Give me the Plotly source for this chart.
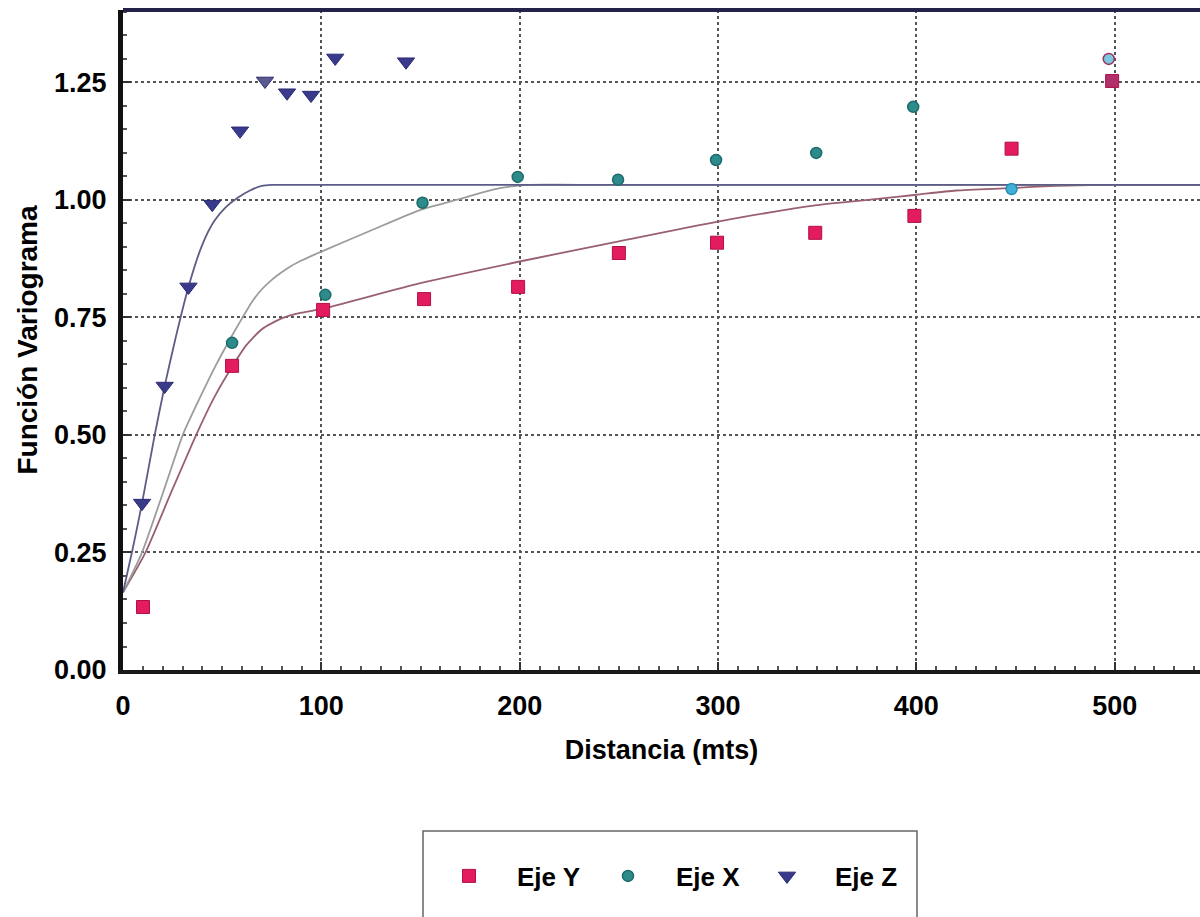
import plotly.graph_objects as go

# ---- experimental variogram points ----
dist_y = [10.1, 55, 100.9, 151.8, 199.2, 250, 299.5, 349, 399, 448, 498.7]
gamma_y = [0.134, 0.647, 0.766, 0.789, 0.815, 0.887, 0.909, 0.930, 0.966, 1.109, 1.253]

dist_x = [55, 102, 151, 199, 249.6, 299, 349.5, 398.4, 448, 497]
gamma_x = [0.696, 0.798, 0.994, 1.049, 1.043, 1.085, 1.100, 1.198, 1.023, 1.300]

dist_z = [9.6, 21, 33, 45, 59, 71.6, 82.7, 94.8, 107, 142.7]
gamma_z = [0.355, 0.604, 0.815, 0.991, 1.147, 1.253, 1.228, 1.223, 1.302, 1.294]

# ---- fitted model curves ----
model_z_d = [0, 5, 9.6, 16, 21, 27, 33, 40, 46, 52, 58, 64, 70, 75, 90, 120, 545]
model_z_g = [0.165, 0.26, 0.355, 0.50, 0.604, 0.715, 0.815, 0.905, 0.955, 0.985,
             1.005, 1.020, 1.030, 1.032, 1.032, 1.032, 1.032]

model_x_d = [0, 9.4, 20, 30.4, 40, 46.4, 54.8, 60, 65, 70, 75, 80, 85, 90, 100,
             125, 150, 168, 190, 205, 230, 545]
model_x_g = [0.165, 0.248, 0.375, 0.503, 0.59, 0.645, 0.71, 0.748, 0.783, 0.81,
             0.83, 0.846, 0.86, 0.871, 0.89, 0.935, 0.979, 1.0, 1.025, 1.032,
             1.032, 1.032]

model_y_d = [0, 11.1, 24, 37.2, 46, 55, 62, 70, 80, 90, 100, 150, 200, 250, 300,
             350, 378, 400, 420, 447, 470, 493, 545]
model_y_g = [0.165, 0.248, 0.375, 0.503, 0.58, 0.645, 0.69, 0.725, 0.748, 0.76,
             0.768, 0.823, 0.869, 0.912, 0.954, 0.989, 1.001, 1.011, 1.020, 1.025,
             1.030, 1.032, 1.032]

# per-point marker colours
col_y = ["#e31c5f"] * 10 + ["#b0306a"]
col_x = ["#2e8b8b"] * 8 + ["#3fb0d8", "#7cc8e0"]
edge_x = ["#1d6b6b"] * 8 + ["#2a8ab0", "#a03060"]
col_z = ["#3a3a8c"] * 5 + ["#5a5a90"] + ["#3a3a8c"] * 4

FONT = "Liberation Sans, Arial, sans-serif"

fig = go.Figure()

# model curves (behind markers)
fig.add_trace(go.Scatter(x=model_y_d, y=model_y_g, mode="lines", showlegend=False,
                         line=dict(color="#99606f", width=1.8, shape="spline", smoothing=0.6),
                         hoverinfo="skip"))
fig.add_trace(go.Scatter(x=model_x_d, y=model_x_g, mode="lines", showlegend=False,
                         line=dict(color="#9c9c9c", width=1.8, shape="spline", smoothing=0.6),
                         hoverinfo="skip"))
fig.add_trace(go.Scatter(x=model_z_d, y=model_z_g, mode="lines", showlegend=False,
                         line=dict(color="#5c5c84", width=1.8, shape="spline", smoothing=0.6),
                         hoverinfo="skip"))

# experimental points
fig.add_trace(go.Scatter(x=dist_y, y=gamma_y, mode="markers", name="Eje Y",
                         marker=dict(symbol="square", size=13, color=col_y,
                                     line=dict(color="#b01048", width=1))))
fig.add_trace(go.Scatter(x=dist_x, y=gamma_x, mode="markers", name="Eje X",
                         marker=dict(symbol="circle", size=11, color=col_x,
                                     line=dict(color=edge_x, width=1.5))))
fig.add_trace(go.Scatter(x=dist_z, y=gamma_z, mode="markers", name="Eje Z",
                         marker=dict(symbol="triangle-down", size=15, color=col_z,
                                     line=dict(color="#2a2a70", width=1))))

tickfont = dict(family=FONT, size=27, color="black", weight="bold")

fig.update_layout(
    width=1200, height=917,
    margin=dict(l=123, r=0, t=10, b=247),
    paper_bgcolor="white", plot_bgcolor="white",
    font=dict(family=FONT, color="black"),
    xaxis=dict(
        range=[0, 543], tickvals=[0, 100, 200, 300, 400, 500],
        showline=True, linecolor="#1a1a1a", linewidth=4,
        ticks="inside", ticklen=8, tickcolor="#333", tickwidth=1.5,
        minor=dict(ticks="inside", dtick=10, ticklen=4, tickcolor="#555", showgrid=False),
        showgrid=True, gridcolor="#555", gridwidth=1.5, griddash="dot",
        zeroline=False, tickfont=tickfont, ticklabelstandoff=9,
        title=dict(text="Distancia (mts)", standoff=21,
                   font=dict(family=FONT, size=27, color="black", weight="bold")),
    ),
    yaxis=dict(
        range=[0, 1.404], tickvals=[0, 0.25, 0.5, 0.75, 1.0, 1.25], tickformat=".2f",
        showline=True, linecolor="#111", linewidth=5,
        ticks="inside", ticklen=8, tickcolor="#333", tickwidth=1.5,
        minor=dict(ticks="inside", dtick=0.05, ticklen=4, tickcolor="#555", showgrid=False),
        showgrid=True, gridcolor="#555", gridwidth=1.5, griddash="dot",
        zeroline=False, tickfont=tickfont, ticklabelstandoff=6,
        title=dict(text="Función Variograma", standoff=10,
                   font=dict(family=FONT, size=28, color="black", weight="bold")),
    ),
    legend=dict(
        orientation="h", x=(421 - 123) / 1077, xanchor="left",
        y=(670 - 876) / 660, yanchor="middle",
        bgcolor="rgba(0,0,0,0)", borderwidth=0,
        itemwidth=86, entrywidth=58,
        font=dict(family=FONT, size=26, color="black", weight="bold"),
    ),
    shapes=[
        # top frame line
        dict(type="line", xref="paper", yref="paper", x0=0, x1=1, y0=1, y1=1,
             line=dict(color="#23234a", width=4)),
        # legend frame
        dict(type="rect", xref="paper", yref="paper",
             x0=(423 - 123) / 1077, x1=(917 - 123) / 1077,
             y0=(670 - 940) / 660, y1=(670 - 831) / 660,
             line=dict(color="#666", width=1.5), layer="below"),
    ],
)

fig.write_html("out.html")
